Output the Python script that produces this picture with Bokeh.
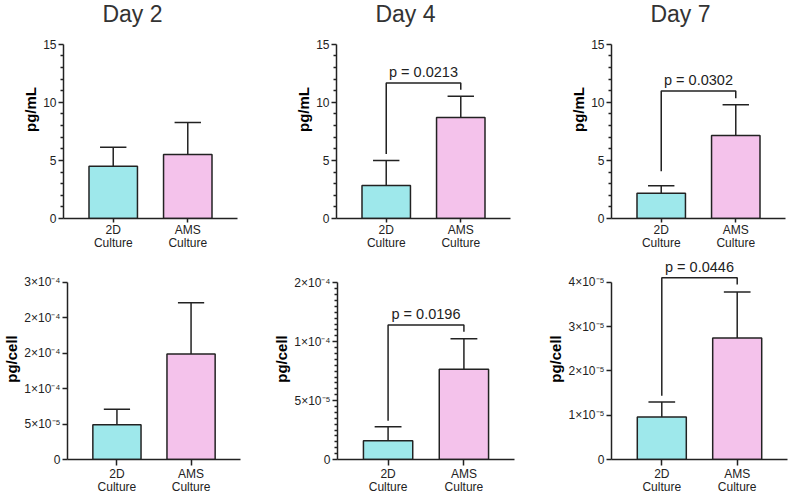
import numpy as np
from bokeh.plotting import figure
from bokeh.layouts import row, column
from bokeh.models import Range1d, FixedTicker, Label, CustomJSTickFormatter
from bokeh.embed import file_html
from bokeh.resources import INLINE

# ---------------- data ----------------
days = ["Day 2", "Day 4", "Day 7"]
groups = ["2D\nCulture", "AMS\nCulture"]
bar_colors = ["#9EE8EB", "#F4C2EB"]

conc_mean = [[4.50, 5.51], [2.84, 8.69], [2.18, 7.14]]
conc_err = [[1.64, 2.75], [2.15, 1.84], [0.63, 2.64]]
conc_p = [None, "p = 0.0213", "p = 0.0302"]
conc_bracket = [None, [11.67, 5.56, 11.07], [10.98, 4.07, 10.35]]
conc_ticks = [0, 5, 10, 15]
conc_tick_labels = ["0", "5", "10", "15"]

cell_mean = [[4.9e-5, 14.86e-5], [1.6e-5, 7.66e-5], [0.96e-5, 2.74e-5]]
cell_err = [[2.18e-5, 7.22e-5], [1.19e-5, 2.59e-5], [0.34e-5, 1.04e-5]]
cell_p = [None, "p = 0.0196", "p = 0.0446"]
cell_bracket = [None, [11.41e-5, 3.30e-5, 10.85e-5], [4.10e-5, 1.44e-5, 3.95e-5]]
cell_ticks = [[0, 5e-5, 1e-4, 1.5e-4, 2e-4, 2.5e-4],
              [0, 5e-5, 1e-4, 1.5e-4],
              [0, 1e-5, 2e-5, 3e-5, 4e-5]]
cell_tick_labels = [["0", "5×10⁻⁵", "1×10⁻⁴", "2×10⁻⁴", "2×10⁻⁴", "3×10⁻⁴"],
                    ["0", "5×10⁻⁵", "1×10⁻⁴", "2×10⁻⁴"],
                    ["0", "1×10⁻⁵", "2×10⁻⁵", "3×10⁻⁵", "4×10⁻⁵"]]
cell_minor_step = [None, 5e-6, None]

FONT = "Liberation Sans"
INK = "#222222"
X0, X1 = 0.333, 2.667
xs = [1, 2]


def make_panel(width, height, ml, mr, mt, mb, ticks, tick_labels, minor,
               px_top, means, errs, ylabel, title, ptext, bracket,
               xtick_out, xstandoff):
    frame_h = height - mt - mb
    top_tick = ticks[-1]
    per_px = top_tick / px_top
    y_end = frame_h * per_px
    p = figure(width=width, height=height, x_range=Range1d(X0, X1),
               y_range=Range1d(0, y_end), toolbar_location=None, tools="",
               output_backend="svg", title=None,
               min_border_left=ml, min_border_right=mr,
               min_border_top=mt, min_border_bottom=mb)
    p.outline_line_color = None
    p.xgrid.visible = False
    p.ygrid.visible = False
    p.background_fill_color = "white"
    p.border_fill_color = "white"

    # bars
    p.vbar(x=xs, top=means, width=0.65, bottom=0, fill_color=bar_colors,
           line_color=INK, line_width=1.5)
    tops = [m + e for m, e in zip(means, errs)]
    p.segment(x0=xs, y0=means, x1=xs, y1=tops, line_color=INK, line_width=1.5)
    p.segment(x0=[x - 0.177 for x in xs], y0=tops, x1=[x + 0.177 for x in xs],
              y1=tops, line_color=INK, line_width=1.5)

    # significance bracket
    if bracket is not None:
        br, left, right = bracket
        p.line(x=[1, 1, 2, 2], y=[left, br, br, right], line_color=INK, line_width=1.5)
        p.add_layout(Label(x=1.5, y=br, y_offset=3, text=ptext, text_align="center",
                           text_baseline="bottom", text_font=FONT,
                           text_font_size="14.5px", text_color=INK))

    # y axis
    ya = p.yaxis[0]
    ya.ticker = FixedTicker(ticks=ticks, minor_ticks=minor)
    ya.formatter = CustomJSTickFormatter(args=dict(vals=ticks, labs=tick_labels), code="""
        let best = 0;
        for (let i = 0; i < vals.length; i++) {
            if (Math.abs(vals[i] - tick) < Math.abs(vals[best] - tick)) best = i;
        }
        return labs[best];
    """)
    ya.bounds = (0, top_tick)
    ya.axis_line_color = INK
    ya.axis_line_width = 1.5
    ya.major_tick_line_color = INK
    ya.major_tick_line_width = 1.5
    ya.minor_tick_line_color = INK
    ya.minor_tick_line_width = 1.5
    ya.major_tick_out = 5
    ya.major_tick_in = 0
    ya.minor_tick_out = 3
    ya.minor_tick_in = 0
    ya.major_label_standoff = 2
    ya.major_label_text_font = FONT
    ya.major_label_text_font_size = "12px"
    ya.major_label_text_color = INK
    ya.axis_label = ylabel
    ya.axis_label_standoff = 1
    ya.axis_label_text_font = FONT
    ya.axis_label_text_font_size = "15px"
    ya.axis_label_text_font_style = "bold"
    ya.axis_label_text_color = "#000000"

    # x axis
    xa = p.xaxis[0]
    xa.ticker = FixedTicker(ticks=xs, minor_ticks=[])
    xa.major_label_overrides = {1: groups[0], 2: groups[1]}
    xa.axis_line_color = INK
    xa.axis_line_width = 1.5
    xa.major_tick_line_color = INK
    xa.major_tick_line_width = 1.5
    xa.major_tick_out = xtick_out
    xa.major_tick_in = 0
    xa.major_label_standoff = xstandoff
    xa.major_label_text_font = FONT
    xa.major_label_text_font_size = "12px"
    xa.major_label_text_color = INK
    xa.major_label_text_line_height = 0.95

    # panel title (inside the frame, above the axis bounds)
    if title is not None:
        p.add_layout(Label(x=X0, y=205 * per_px, x_offset=69, text=title,
                           text_align="center", text_baseline="alphabetic",
                           text_font=FONT, text_font_size="23px", text_color="#333333"))
    return p


top_specs = [(265, 63, 28), (265, 71, 20), (259, 81, 4)]
bot_specs = [(265, 63, 25), (265, 72, 16), (259, 81, 2)]
bot_px_top = [177.4, 176.7, 177.3]

top_row = []
for i in range(3):
    w, ml, mr = top_specs[i]
    minor = [v for v in range(1, 15) if v % 5 != 0]
    top_row.append(make_panel(w, 256, ml, mr, 0, 38, conc_ticks, conc_tick_labels,
                              minor, 174.3, conc_mean[i], conc_err[i], "pg/mL",
                              days[i], conc_p[i], conc_bracket[i], 4, 0))

bot_row = []
for i in range(3):
    w, ml, mr = bot_specs[i]
    step = cell_minor_step[i]
    if step is None:
        minor = []
    else:
        n = int(round(cell_ticks[i][-1] / step))
        minor = [k * step for k in range(1, n) if k % 10 != 0]
    bot_row.append(make_panel(w, 240, ml, mr, 2, 37, cell_ticks[i], cell_tick_labels[i],
                              minor, bot_px_top[i], cell_mean[i], cell_err[i], "pg/cell",
                              None, cell_p[i], cell_bracket[i], 6, 1))

layout = column(row(*top_row), row(*bot_row))
open("out.html", "w").write(file_html(layout, INLINE))
